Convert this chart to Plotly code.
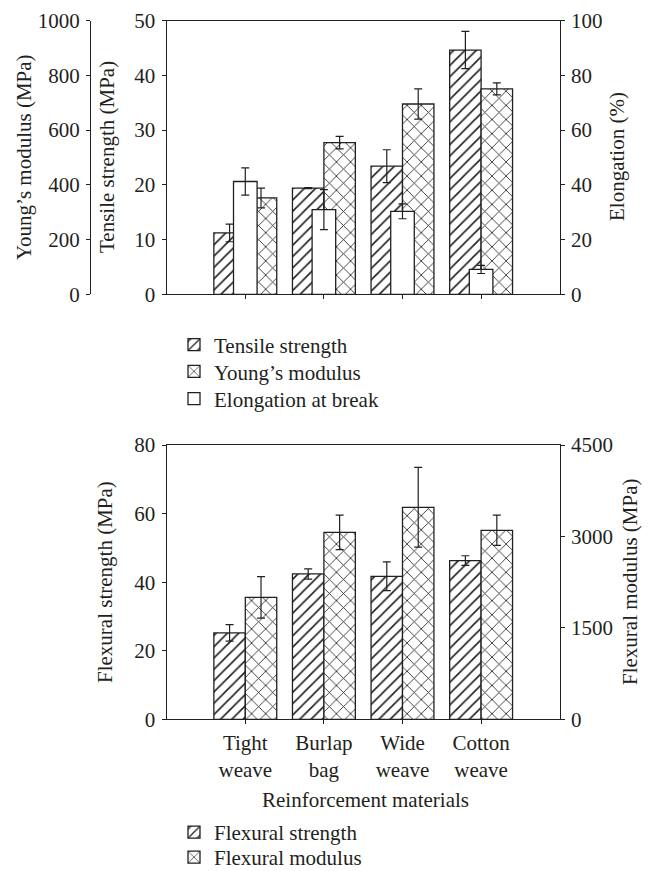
import plotly.graph_objects as go

# ---------------- data ----------------
categories = ["Tight weave", "Burlap bag", "Wide weave", "Cotton weave"]
tick_labels = ["Tight<br>weave", "Burlap<br>bag", "Wide<br>weave", "Cotton<br>weave"]

tensile_strength = [11.2, 19.4, 23.4, 44.6]      # MPa
tensile_err = [1.6, 0.1, 3.0, 3.4]
youngs_modulus = [352, 554, 695, 750]            # MPa
youngs_err = [36, 23, 55, 22]
elongation = [41.2, 30.9, 30.3, 9.1]             # %
elongation_err = [5.0, 7.3, 2.7, 1.5]

flexural_strength = [25.2, 42.4, 41.7, 46.3]     # MPa
flexural_strength_err = [2.4, 1.5, 4.2, 1.4]
flexural_modulus = [2000, 3065, 3478, 3100]      # MPa
flexural_modulus_err = [340, 283, 655, 248]

# ---------------- style ----------------
FONT = "Liberation Serif"
FS = 21
INK = "#231f20"
LW = 1.3

OFF = 8  # the page body has an 8px default margin; positions below are page pixels
W, H = 653 - OFF, 871 - OFF
def px(x):
    return (x - OFF) / W
def py(y):
    return 1 - (y - OFF) / H

X0, X1 = px(166.7), px(559.7)
TOP_DOM = [py(294.3), py(20.5)]
BOT_DOM = [py(719.3), py(445.0)]

hatch = dict(shape="/", size=8, solidity=0.2, fgcolor=INK, fgopacity=1, bgcolor="white", fillmode="overlay")
cross = dict(shape="x", size=10, solidity=0.16, fgcolor=INK, fgopacity=1, bgcolor="white", fillmode="overlay")

def err(vals):
    return dict(type="data", array=vals, visible=True, color=INK, thickness=1.2, width=4)

fig = go.Figure()

# top chart
fig.add_trace(go.Bar(x=categories, y=tensile_strength, name="Tensile strength",
                     xaxis="x", yaxis="y", width=0.4, offset=-0.4,
                     marker=dict(color="white", pattern=hatch, line=dict(color=INK, width=LW)),
                     error_y=err(tensile_err), legend="legend"))
fig.add_trace(go.Bar(x=categories, y=youngs_modulus, name="Young’s modulus",
                     xaxis="x", yaxis="y2", width=0.4, offset=0.0,
                     marker=dict(color="white", pattern=cross, line=dict(color=INK, width=LW)),
                     error_y=err(youngs_err), legend="legend2"))
fig.add_trace(go.Bar(x=categories, y=elongation, name="Elongation at break",
                     xaxis="x", yaxis="y3", width=0.3, offset=-0.15,
                     marker=dict(color="white", line=dict(color=INK, width=LW)),
                     error_y=err(elongation_err), legend="legend3"))

# bottom chart
fig.add_trace(go.Bar(x=categories, y=flexural_strength, name="Flexural strength",
                     xaxis="x2", yaxis="y4", width=0.4, offset=-0.4,
                     marker=dict(color="white", pattern=hatch, line=dict(color=INK, width=LW)),
                     error_y=err(flexural_strength_err), legend="legend4"))
fig.add_trace(go.Bar(x=categories, y=flexural_modulus, name="Flexural modulus",
                     xaxis="x2", yaxis="y5", width=0.4, offset=0.0,
                     marker=dict(color="white", pattern=cross, line=dict(color=INK, width=LW)),
                     error_y=err(flexural_modulus_err), legend="legend5"))

axis_common = dict(showline=True, linecolor=INK, linewidth=LW, ticks="outside", ticklen=4,
                   tickwidth=LW, tickcolor=INK, showgrid=False, zeroline=False, automargin=False,
                   ticklabeloverflow="allow",
                   tickfont=dict(family=FONT, size=FS, color=INK))
y_common = dict(ticklabelstandoff=2, **axis_common)

def leg(y):
    return dict(x=px(174), y=py(y), xanchor="left", yanchor="middle", bgcolor="rgba(0,0,0,0)",
                font=dict(family=FONT, size=FS, color=INK))

fig.update_layout(
    width=W, height=H,
    margin=dict(l=0, r=0, t=0, b=0, autoexpand=False),
    paper_bgcolor="white", plot_bgcolor="white",
    font=dict(family=FONT, size=FS, color=INK),
    barmode="overlay",
    showlegend=True,
    xaxis=dict(domain=[X0, X1], anchor="y", type="category", range=[-1, 4],
               tickvals=categories, showticklabels=False, mirror=True, **axis_common),
    yaxis=dict(domain=TOP_DOM, anchor="x", range=[0, 50], dtick=10, **y_common),
    yaxis2=dict(overlaying="y", anchor="free", position=px(90), side="left",
                range=[0, 1000], dtick=200, **y_common),
    yaxis3=dict(overlaying="y", anchor="x", side="right", range=[0, 100], dtick=20, **y_common),
    xaxis2=dict(domain=[X0, X1], anchor="y4", type="category", range=[-1, 4],
                tickvals=categories, ticktext=tick_labels, mirror=True,
                ticklabelstandoff=0, **axis_common),
    yaxis4=dict(domain=BOT_DOM, anchor="x2", range=[0, 80], dtick=20, **y_common),
    yaxis5=dict(overlaying="y4", anchor="x2", side="right", range=[0, 4500], dtick=1500, **y_common),
    legend=leg(345),
    legend2=leg(371.7),
    legend3=leg(399),
    legend4=leg(832.5),
    legend5=leg(857.5),
)

def vtitle(text, x, y):
    fig.add_annotation(text=text, x=px(x), y=py(y), xref="paper", yref="paper",
                       showarrow=False, textangle=-90, xanchor="center", yanchor="middle",
                       font=dict(family=FONT, size=FS, color=INK))

vtitle("Young’s modulus (MPa)", 24, 157)
vtitle("Tensile strength (MPa)", 107, 157)
vtitle("Elongation (%)", 617, 157)
vtitle("Flexural strength (MPa)", 105, 582)
vtitle("Flexural modulus (MPa)", 630, 582)
fig.add_annotation(text="Reinforcement materials", x=px(365), y=py(800), xref="paper", yref="paper",
                   showarrow=False, xanchor="center", yanchor="middle",
                   font=dict(family=FONT, size=FS, color=INK))

fig.write_html("out.html")
